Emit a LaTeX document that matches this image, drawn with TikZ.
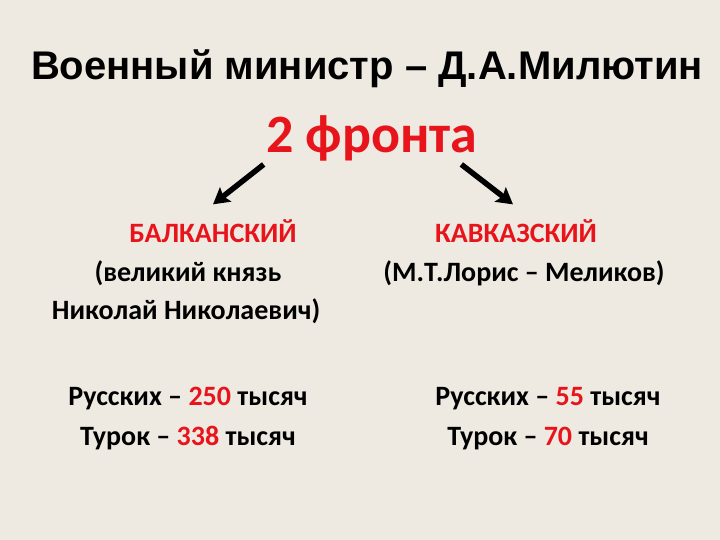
\documentclass[tikz,border=0pt]{standalone}
\usepackage{fontspec}
\setmainfont{Carlito}
\newfontfamily\titlefont{Liberation Sans}
\usetikzlibrary{positioning}
\usetikzlibrary{arrows.meta}
\definecolor{slidebg}{HTML}{EEEAE2}
\definecolor{frontred}{HTML}{E8141C}
\tikzset{
  txt/.style={anchor=base,inner sep=0pt,font=\bfseries\fontsize{28}{32}\selectfont},
  head/.style={txt,text=frontred},
}
\begin{document}
\begin{tikzpicture}[x=1pt,y=-1pt,>={Stealth[length=16pt,width=18pt,inset=3pt]},line width=5.5pt]
  \fill[slidebg] (0,0) rectangle (720,540);
  \useasboundingbox (0,0) rectangle (720,540);
  \node (title) [anchor=base,inner sep=0pt,font=\titlefont\bfseries\fontsize{40}{44}\selectfont] at (367,80) {Военный министр – Д.А.Милютин};
  \node (fronts) [anchor=base,inner sep=0pt,text=frontred,font=\bfseries\fontsize{54}{60}\selectfont] at (372,153) {2 фронта};
  \node (balkan) [head] at (213,243) {БАЛКАНСКИЙ};
  \node (kavkaz) [head] at (516,243) {КАВКАЗСКИЙ};
  \node (prince) [txt] at (188,281) {(великий князь};
  \node (nikolai) [txt] at (186,319) {Николай Николаевич)};
  \node (loris) [txt] at (524,281) {(М.Т.Лорис – Меликов)};
  \node (rusb) [txt] at (188,405) {Русских – \textcolor{frontred}{250} тысяч};
  \node (turb) [txt] at (188,445) {Турок – \textcolor{frontred}{338} тысяч};
  \node (rusk) [txt] at (548,405) {Русских – \textcolor{frontred}{55} тысяч};
  \node (turk) [txt] at (548,445) {Турок – \textcolor{frontred}{70} тысяч};
\path[->] (fronts.south west) edge ([shift={(0,-13)}]balkan.north)
          ([shift={(-19,0)}]fronts.south east) edge ([shift={(-3,-13)}]kavkaz.north);
\end{tikzpicture}
\end{document}
